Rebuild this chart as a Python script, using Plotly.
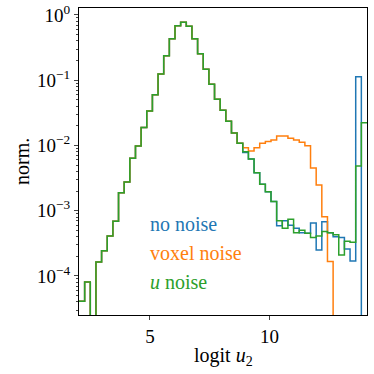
import numpy as np
import plotly.graph_objects as go

# histogram range (logit u2) and number of bins
x_lo, x_hi, n_bins = 2.03, 14.08, 51

no_noise = [4.1e-5, 8.1e-5, 0, 1.64e-4, 2.44e-4, 4.1e-4, 6.9e-4, 1.89e-3, 2.76e-3, 6.4e-3,
            9.8e-3, 0.0188, 0.0338, 0.060, 0.125, 0.238, 0.433, 0.686, 0.773, 0.67,
            0.433, 0.255, 0.147, 0.0867, 0.051, 0.0346, 0.0235, 0.0156, 0.0108, 7.8e-3,
            6.2e-3, 3.83e-3, 2.54e-3, 1.96e-3, 1.38e-3, 5.9e-4, 7.05e-4, 6.0e-4, 5.4e-4, 4.6e-4,
            4.5e-4, 6.5e-4, 2.5e-4, 6.8e-4, 4.6e-4, 4.0e-4, 3.9e-4, 2.6e-4, 1.7e-4, 0.113,
            0]
voxel_noise = [4.1e-5, 8.1e-5, 0, 1.64e-4, 2.44e-4, 4.1e-4, 6.9e-4, 1.89e-3, 2.76e-3, 6.4e-3,
               9.8e-3, 0.0188, 0.0338, 0.060, 0.125, 0.238, 0.433, 0.686, 0.773, 0.67,
               0.433, 0.255, 0.147, 0.0867, 0.051, 0.0346, 0.0235, 0.0156, 0.0108, 9.25e-3,
               8.24e-3, 9.25e-3, 0.0108, 0.0115, 0.0121, 0.014, 0.014, 0.0129, 0.0121, 0.0112,
               9.9e-3, 4.5e-3, 2.48e-3, 8.1e-4, 1.66e-4, 0, 0, 0, 0, 0,
               0]
u_noise = [4.1e-5, 8.1e-5, 0, 1.64e-4, 2.44e-4, 4.1e-4, 6.9e-4, 1.89e-3, 2.76e-3, 6.4e-3,
           9.8e-3, 0.0188, 0.0338, 0.060, 0.125, 0.238, 0.433, 0.686, 0.773, 0.67,
           0.433, 0.255, 0.147, 0.0867, 0.051, 0.0346, 0.0235, 0.0156, 0.0108, 8.0e-3,
           6.2e-3, 3.83e-3, 2.54e-3, 1.96e-3, 1.38e-3, 7.0e-4, 5.4e-4, 7.4e-4, 4.6e-4, 5.0e-4,
           4.5e-4, 3.9e-4, 4.1e-4, 4.8e-4, 4.6e-4, 4.3e-4, 2.1e-4, 3.4e-4, 3.3e-4, 4.85e-3,
           0.0223]

series = [("no noise", no_noise, "#1f77b4"),
          ("voxel noise", voxel_noise, "#ff7f0e"),
          ("<i>u</i> noise", u_noise, "#2ca02c")]

edges = np.linspace(x_lo, x_hi, n_bins + 1)
FONT = "Liberation Serif, DejaVu Serif, serif"

fig = go.Figure()
for name, vals, col in series:
    y = [v if v > 0 else 1e-12 for v in vals]
    fig.add_trace(go.Scatter(x=edges, y=y + [y[-1]], mode="lines", line_shape="hv",
                             line=dict(color=col, width=1.5), name=name, showlegend=False))

# text legend
for i, (name, vals, col) in enumerate(series):
    fig.add_annotation(x=0.238, y=0.297 - i * 0.094, xref="paper", yref="paper", text=name,
                       showarrow=False, xanchor="left", yanchor="middle",
                       font=dict(family=FONT, size=20, color=col))

# axis titles
fig.add_annotation(x=0.5, y=-0.135, xref="paper", yref="paper", yanchor="middle",
                   text="logit <i>u</i><sub>2</sub>", showarrow=False,
                   font=dict(family=FONT, size=20))
fig.add_annotation(x=-0.2, y=0.5, xref="paper", yref="paper", xanchor="center",
                   text="norm.", textangle=-90, showarrow=False,
                   font=dict(family=FONT, size=20))

fig.update_layout(
    width=374, height=374,
    margin=dict(l=79, r=7, t=8, b=59),
    plot_bgcolor="white", paper_bgcolor="white",
    font=dict(family=FONT, size=18, color="black"),
)
fig.update_xaxes(range=[x_lo, x_hi], tickvals=[5, 10], ticks="outside", ticklen=4,
                 showline=True, mirror=True, linecolor="black", linewidth=1, showgrid=False,
                 zeroline=False, automargin=False, tickfont=dict(family=FONT, size=19))
fig.update_yaxes(type="log", range=[-4.598, 0.107],
                 tickvals=[1e-4, 1e-3, 1e-2, 1e-1, 1],
                 ticktext=["10<sup>−4</sup>", "10<sup>−3</sup>", "10<sup>−2</sup>",
                           "10<sup>−1</sup>", "10<sup>0</sup>"],
                 ticks="outside", ticklen=4,
                 minor=dict(ticks="outside", ticklen=2, dtick="D1", showgrid=False),
                 showline=True, mirror=True, linecolor="black", linewidth=1, showgrid=False,
                 zeroline=False, automargin=False, tickfont=dict(family=FONT, size=19))

fig.write_html("out.html", config={"displayModeBar": False},
               post_script="document.body.style.margin='0';")
